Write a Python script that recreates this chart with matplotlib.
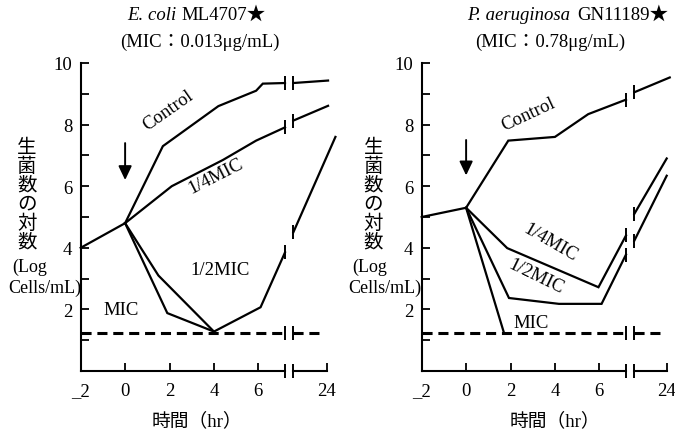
import matplotlib
matplotlib.use('Agg')
import matplotlib.pyplot as plt

# ---------------- data ----------------
x_ticks = [-2, 0, 2, 4, 6]
x_ticklabels = ['_2', '0', '2', '4', '6']
post_ticks = [24]
post_ticklabels = ['24']
y_major = [2, 4, 6, 8, 10]
y_minor = [1, 3, 5, 7, 9]
break_hr = 7.2        # end of the first x segment
post_start = 8        # start of the segment after the break
detect_limit = 1.25   # dashed line

# E. coli ML4707
ec_pre_t = [-2, 0]
ec_pre_v = [4.0, 4.8]
ec_control_t = [0, 1.7, 4.2, 5.9, 6.2, 7.2]
ec_control_v = [4.8, 7.3, 8.6, 9.1, 9.33, 9.35]
ec_control_post_t = [8, 24.5]
ec_control_post_v = [9.35, 9.43]
ec_q_t = [0, 2.1, 4.4, 5.9, 7.2]
ec_q_v = [4.8, 6.0, 6.85, 7.48, 7.91]
ec_q_post_t = [8, 24.5]
ec_q_post_v = [8.13, 8.61]
ec_h_t = [0, 1.5, 4, 6.1, 7.2]
ec_h_v = [4.8, 3.1, 1.28, 2.07, 3.85]
ec_h_post_t = [8, 28]
ec_h_post_v = [4.5, 7.6]
ec_mic_t = [0, 1.9, 4]
ec_mic_v = [4.8, 1.88, 1.28]

# P. aeruginosa GN11189
pa_pre_t = [-2, 0]
pa_pre_v = [5.0, 5.3]
pa_control_t = [0, 1.9, 4.0, 5.5, 7.2]
pa_control_v = [5.3, 7.48, 7.6, 8.34, 8.81]
pa_control_post_t = [8, 25.5]
pa_control_post_v = [9.05, 9.53]
pa_q_t = [0, 1.85, 5.96, 7.2]
pa_q_v = [5.3, 3.99, 2.72, 4.4]
pa_q_post_t = [8, 24]
pa_q_post_v = [5.1, 6.9]
pa_h_t = [0, 1.93, 4.18, 6.1, 7.2]
pa_h_v = [5.3, 2.37, 2.18, 2.18, 3.78]
pa_h_post_t = [8, 24]
pa_h_post_v = [4.23, 6.34]
pa_mic_t = [0, 1.7]
pa_mic_v = [5.3, 1.25]

ylabel_chars = ['生', '菌', '数', 'の', '対', '数']

# ---------------- layout ----------------
W, H = 675, 435
fig = plt.figure(figsize=(W / 100, H / 100), dpi=100)
fig.patch.set_facecolor('white')

SERIF = ['Liberation Serif', 'Noto Sans CJK JP', 'DejaVu Sans']
CJK = ['Noto Sans CJK JP', 'DejaVu Sans']


def fx(px):
    return px / W


def fy(py):
    return 1 - py / H


LW = 1.6
BAR = dict(marker='|', markersize=10, markeredgewidth=1.4)


def panel(x0, x1, x2, x3, pre, series, posts, arrow, labels):
    ax = fig.add_axes([fx(x0), fy(372), fx(x1) - fx(x0), fy(64) - fy(372)])
    axp = fig.add_axes([fx(x2), fy(372), fx(x3) - fx(x2), fy(64) - fy(372)])
    for a in (ax, axp):
        a.set_facecolor('none')
        a.set_ylim(0, 10)
        a.spines['top'].set_visible(False)
        a.spines['right'].set_visible(False)
        a.spines['bottom'].set_linewidth(1.5)
        a.spines['left'].set_linewidth(1.5)
        a.tick_params(which='both', direction='in', length=6, width=1.3,
                      labelsize=13.5)
        a.tick_params(axis='x', pad=8)
        a.tick_params(axis='y', pad=6)
    ax.set_xlim(-2, break_hr)
    ax.set_xticks(x_ticks)
    ax.set_xticklabels(x_ticklabels, family=SERIF)
    ax.set_yticks(y_major)
    ax.set_yticklabels([str(v) for v in y_major], family=SERIF)
    ax.set_yticks(y_minor, minor=True)
    axp.set_xlim(post_start, 24)
    axp.spines['left'].set_visible(False)
    axp.set_yticks([])
    axp.set_xticks(post_ticks)
    axp.set_xticklabels(post_ticklabels, family=SERIF)

    # axis break marks
    ax.plot([break_hr], [0], color='k', clip_on=False, **BAR)
    axp.plot([post_start], [0], color='k', clip_on=False, **BAR)

    # detection limit
    dash = (0, (3.3, 1.9))
    ax.plot([-2, break_hr], [detect_limit] * 2, color='k', lw=2.2,
            ls=dash, clip_on=False)
    ax.plot([break_hr], [detect_limit], color='k', clip_on=False, **BAR)
    axp.plot([post_start, 21.5], [detect_limit] * 2, color='k', lw=2.2,
             ls=dash, clip_on=False)
    axp.plot([post_start], [detect_limit], color='k', clip_on=False, **BAR)

    ax.plot(pre[0], pre[1], color='k', lw=LW, clip_on=False,
            solid_joinstyle='miter')
    for t, v in series:
        ax.plot(t, v, color='k', lw=LW, clip_on=False, solid_joinstyle='miter')
        if t[-1] == break_hr:
            ax.plot([t[-1]], [v[-1]], color='k', clip_on=False, **BAR)
    for t, v in posts:
        axp.plot(t, v, color='k', lw=LW, clip_on=False)
        axp.plot([t[0]], [v[0]], color='k', clip_on=False, **BAR)

    ax.annotate('', xy=(0, arrow[1]), xytext=(0, arrow[0]),
                arrowprops=dict(arrowstyle='-|>,head_length=0.42,head_width=0.2',
                                lw=1.4, color='k', shrinkA=0, shrinkB=0,
                                mutation_scale=20))
    for txt, x, y, rot in labels:
        ax.text(x, y, txt, ha='center', va='center', rotation=rot,
                rotation_mode='anchor', fontsize=13.5, family=SERIF)
    return ax, axp


panel(80.7, 285, 293.3, 327,
      (ec_pre_t, ec_pre_v),
      [(ec_control_t, ec_control_v), (ec_q_t, ec_q_v),
       (ec_h_t, ec_h_v), (ec_mic_t, ec_mic_v)],
      [(ec_control_post_t, ec_control_post_v), (ec_q_post_t, ec_q_post_v),
       (ec_h_post_t, ec_h_post_v)],
      (7.4, 6.2),
      [('Control', 1.96, 8.48, 35), ('1/4MIC', 4.08, 6.34, 27),
       ('1/2MIC', 4.26, 3.31, 0), ('MIC', -0.16, 2.01, 0)])

panel(421.7, 626, 634.3, 666.7,
      (pa_pre_t, pa_pre_v),
      [(pa_control_t, pa_control_v), (pa_q_t, pa_q_v),
       (pa_h_t, pa_h_v), (pa_mic_t, pa_mic_v)],
      [(pa_control_post_t, pa_control_post_v), (pa_q_post_t, pa_q_post_v),
       (pa_h_post_t, pa_h_post_v)],
      (7.5, 6.35),
      [('Control', 2.82, 8.34, 25), ('1/4MIC', 3.79, 4.19, -30),
       ('1/2MIC', 3.13, 3.08, -26), ('MIC', 2.91, 1.59, 0)])

# titles
fig.text(fx(176), fy(15), 'E. coli', ha='right', va='center', fontsize=13.5,
         family=SERIF, style='italic')
fig.text(fx(181), fy(15), 'ML4707★', ha='left', va='center', fontsize=13.5,
         family=SERIF)
fig.text(fx(200), fy(42), '(MIC：0.013μg/mL)', ha='center', va='center',
         fontsize=13.5, family=SERIF)
fig.text(fx(570), fy(15), 'P. aeruginosa', ha='right', va='center',
         fontsize=13.5, family=SERIF, style='italic')
fig.text(fx(577), fy(15), 'GN11189★', ha='left', va='center', fontsize=13.5,
         family=SERIF)
fig.text(fx(550), fy(42), '(MIC：0.78μg/mL)', ha='center', va='center',
         fontsize=13.5, family=SERIF)

# y labels
for cx, lx in ((27, 10), (373.3, 350)):
    for i, ch in enumerate(ylabel_chars):
        fig.text(fx(cx), fy(147 + 19 * i), ch, ha='center', va='center',
                 fontsize=14, family=CJK)
    fig.text(fx(lx + 2), fy(267), '(Log', ha='left', va='center',
             fontsize=13, family=SERIF)
    fig.text(fx(lx - 2), fy(288), 'Cells/mL)', ha='left', va='center',
             fontsize=13, family=SERIF)

# x labels
for cx in (197, 555):
    fig.text(fx(cx), fy(421), '時間（hr）', ha='center', va='center',
             fontsize=13.5, family=SERIF)

fig.savefig('out.png', dpi=100, facecolor='white')
